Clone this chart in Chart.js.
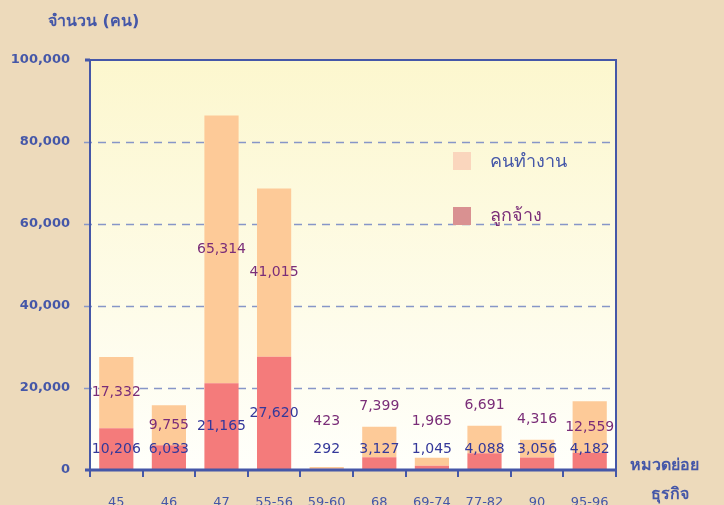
<!DOCTYPE html>
<html>
<head>
<meta charset="utf-8">
<script src="https://cdn.jsdelivr.net/npm/chart.js@4"></script>
<style>
  html, body { margin: 0; padding: 0; background: #EDDABB; }
  #wrap { width: 724px; height: 505px; }
</style>
</head>
<body>
<div id="wrap"><canvas id="myChart" width="724" height="505"></canvas></div>
<script>
const categories = ["45", "46", "47", "55-56", "59-60", "68", "69-74", "77-82", "90", "95-96"];
const employees = [10206, 6033, 21165, 27620, 292, 3127, 1045, 4088, 3056, 4182];
const workers = [17332, 9755, 65314, 41015, 423, 7399, 1965, 6691, 4316, 12559];
const yTicks = [0, 20000, 40000, 60000, 80000, 100000];

const FONT = "Tahoma, 'DejaVu Sans', 'Noto Sans', sans-serif";
const BLUE = "#4557A8";

const fmt = (v) => v.toLocaleString("en-US");

// plot background + border + extra texts
const decor = {
  id: "decor",
  beforeDatasetsDraw(chart) {
    const { ctx, chartArea: a } = chart;
    ctx.save();
    const g = ctx.createLinearGradient(0, a.top, 0, a.bottom);
    g.addColorStop(0, "#FCF7CE");
    g.addColorStop(1, "#FFFFFB");
    ctx.fillStyle = g;
    ctx.fillRect(a.left, a.top, a.right - a.left, a.bottom - a.top);
    // dashed grid
    const y = chart.scales.y;
    ctx.strokeStyle = "#8796C8";
    ctx.lineWidth = 1.5;
    ctx.setLineDash([8, 6]);
    yTicks.forEach((t) => {
      if (t === 0 || t === 100000) return;
      const py = Math.round(y.getPixelForValue(t)) + 0.5;
      ctx.beginPath();
      ctx.moveTo(a.left - 6, py);
      ctx.lineTo(a.right, py);
      ctx.stroke();
    });
    ctx.restore();
  },
  afterDatasetsDraw(chart) {
    const { ctx, chartArea: a } = chart;
    ctx.save();
    // frame
    ctx.strokeStyle = BLUE;
    ctx.lineWidth = 2;
    ctx.beginPath();
    ctx.moveTo(a.left, a.bottom);
    ctx.lineTo(a.left, a.top);
    ctx.lineTo(a.right, a.top);
    ctx.lineTo(a.right, a.bottom);
    ctx.stroke();
    ctx.lineWidth = 3;
    ctx.beginPath();
    ctx.moveTo(a.left - 5, a.bottom);
    ctx.lineTo(a.right, a.bottom);
    ctx.moveTo(a.left - 5, a.top);
    ctx.lineTo(a.left, a.top);
    ctx.stroke();

    // value labels
    const m0 = chart.getDatasetMeta(0);
    const m1 = chart.getDatasetMeta(1);
    ctx.font = "14px " + FONT;
    ctx.textAlign = "center";
    ctx.textBaseline = "middle";
    categories.forEach((c, i) => {
      const b0 = m0.data[i], b1 = m1.data[i];
      let y0 = (b0.y + b0.base) / 2;
      if (b0.base - b0.y < 30) y0 = a.bottom - 21;
      let y1 = (b1.y + b1.base) / 2;
      if (b1.base - b1.y < 35) y1 = Math.min(b1.y - 20, y0 - 28);
      ctx.fillStyle = "#34389A";
      ctx.fillText(fmt(employees[i]), b0.x, y0);
      ctx.fillStyle = "#7A2D78";
      ctx.fillText(fmt(workers[i]), b1.x, y1);
    });

    // legend
    ctx.textAlign = "left";
    ctx.font = "18px " + FONT;
    ctx.fillStyle = "#FAD6BD";
    ctx.fillRect(453, 152, 18, 18);
    ctx.fillStyle = BLUE;
    ctx.fillText("คนทำงาน", 490, 162);
    ctx.fillStyle = "#D99191";
    ctx.fillRect(453, 207, 18, 18);
    ctx.fillStyle = "#7A2D78";
    ctx.fillText("ลูกจ้าง", 490, 216);

    // axis titles
    ctx.fillStyle = BLUE;
    ctx.font = "bold 16px " + FONT;
    ctx.fillText("จำนวน (คน)", 48, 22);
    ctx.fillText("หมวดย่อย", 630, 466);
    ctx.textAlign = "center";
    ctx.fillText("ธุรกิจ", 670, 495);
    ctx.restore();
  },
};

const ctx = document.getElementById("myChart").getContext("2d");
const myChart = new Chart(ctx, {
  type: "bar",
  data: {
    labels: categories,
    datasets: [
      {
        label: "ลูกจ้าง",
        data: employees,
        backgroundColor: "#F47B7B",
        borderWidth: 0,
      },
      {
        label: "คนทำงาน",
        data: workers,
        backgroundColor: "#FDCA98",
        borderWidth: 0,
      },
    ],
  },
  options: {
    responsive: false,
    animation: false,
    layout: { padding: { top: 60, right: 108, left: 0, bottom: 0 } },
    plugins: { legend: { display: false }, tooltip: { enabled: false } },
    datasets: { bar: { categoryPercentage: 1, barPercentage: 0.65 } },
    scales: {
      x: {
        stacked: true,
        border: { display: false },
        grid: {
          offset: true,
          drawOnChartArea: false,
          tickLength: 7,
          color: BLUE,
          lineWidth: 2,
        },
        ticks: { color: BLUE, font: { family: FONT, size: 13 }, padding: 18, maxRotation: 0 },
        afterFit: (s) => { s.height = 35; },
      },
      y: {
        stacked: true,
        min: 0,
        max: 100000,
        border: { display: false },
        grid: { display: false },
        ticks: {
          stepSize: 20000,
          color: BLUE,
          padding: 12,
          font: { family: FONT, size: 13, weight: "bold" },
          callback: (v) => fmt(v),
        },
        afterFit: (s) => { s.width = 90; },
      },
    },
  },
  plugins: [decor],
});
</script>
</body>
</html>
